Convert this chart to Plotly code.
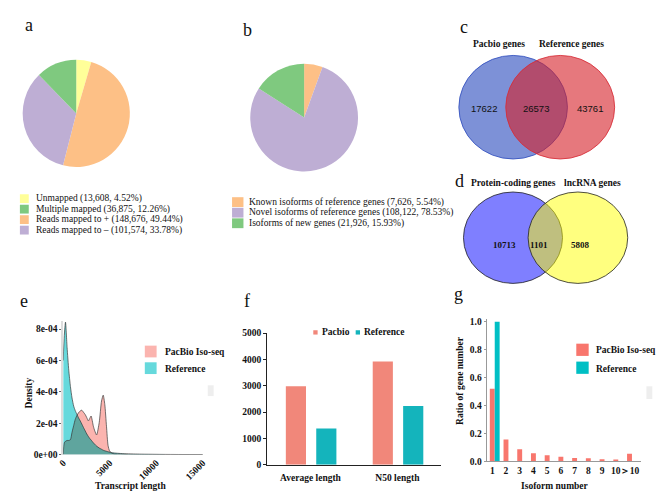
import plotly.graph_objects as go
import numpy as np

W, H = 668, 494
SERIF = "Liberation Serif, Times New Roman, serif"
SANS = "Liberation Sans, Arial, sans-serif"

# ---------------- data ----------------
a_labels = ["Unmapped (13,608, 4.52%)", "Multiple mapped (36,875, 12.26%)",
            "Reads mapped to + (148,676, 49.44%)", "Reads mapped to – (101,574, 33.78%)"]
a_values = [13608, 36875, 148676, 101574]
a_colors = ["#FFFF99", "#7FC97F", "#FDC086", "#BEAED4"]
a_slice_order = [0, 2, 3, 1]

b_labels = ["Known isoforms of reference genes (7,626, 5.54%)",
            "Novel isoforms of reference genes (108,122, 78.53%)",
            "Isoforms of new genes (21,926, 15.93%)"]
b_values = [7626, 108122, 21926]
b_colors = ["#FDC086", "#BEAED4", "#7FC97F"]

c_sets = ["Pacbio genes", "Reference genes"]
c_counts = [17622, 26573, 43761]
d_sets = ["Protein-coding genes", "lncRNA genes"]
d_counts = [10713, 1101, 5808]

e_length = [0, 120, 250, 420, 600, 780, 950, 1130, 1300, 1480, 1650, 1830, 2000, 2180,
            2360, 2540, 2710, 2890, 3000, 3240, 3400, 3590, 3870, 4120, 4300, 4470,
            4650, 4820, 5000, 5350, 6400, 8200, 11000, 15000]
e_reference = [6.0e-4, 7.6e-4, 8.45e-4, 6.84e-4, 5.38e-4, 4.34e-4, 3.61e-4, 3.09e-4, 2.80e-4,
               2.56e-4, 2.35e-4, 2.15e-4, 1.95e-4, 1.73e-4, 1.52e-4, 1.31e-4, 1.15e-4, 1.00e-4,
               0.93e-4, 0.75e-4, 0.65e-4, 0.54e-4, 0.42e-4, 0.34e-4, 0.28e-4, 0.24e-4, 0.21e-4,
               0.18e-4, 0.15e-4, 0.11e-4, 0.06e-4, 0.03e-4, 0.01e-4, 0.0]
e_pacbio = [0.0, 0.75e-4, 0.85e-4, 0.90e-4, 0.90e-4, 0.95e-4, 1.42e-4, 1.85e-4, 2.25e-4,
            2.50e-4, 2.67e-4, 2.78e-4, 2.83e-4, 2.70e-4, 2.56e-4, 2.35e-4, 2.15e-4, 2.35e-4,
            2.46e-4, 1.81e-4, 1.50e-4, 1.25e-4, 2.04e-4, 3.42e-4, 3.79e-4, 3.20e-4, 1.81e-4,
            0.58e-4, 0.21e-4, 0.06e-4, 0.02e-4, 0.0, 0.0, 0.0]
e_series = ["PacBio Iso-seq", "Reference"]
e_yticks = [0, 2e-4, 4e-4, 6e-4, 8e-4]
e_yticktext = ["0e+00", "2e-04", "4e-04", "6e-04", "8e-04"]
e_xticks = [0, 5000, 10000, 15000]
e_xticktext = ["0", "5000", "10000", "15000"]

f_categories = ["Average length", "N50 length"]
f_pacbio = [2980, 3920]
f_reference = [1370, 2230]
f_series = ["Pacbio", "Reference"]

g_categories = ["1", "2", "3", "4", "5", "6", "7", "8", "9", "10", "＞10"]
g_pacbio = [0.52, 0.157, 0.087, 0.059, 0.045, 0.033, 0.024, 0.022, 0.016, 0.013, 0.055]
g_reference = [1.0, 0, 0, 0, 0, 0, 0, 0, 0, 0, 0]
g_series = ["PacBio Iso-seq", "Reference"]
g_yticks = [0, 0.2, 0.4, 0.6, 0.8, 1.0]
g_yticktext = ["0.0", "0.2", "0.4", "0.6", "0.8", "1.0"]

# ---------------- helpers ----------------
def PX(v):
    return v / W


def PY(v):
    return 1 - v / H


fig = go.Figure()
annotations = []
shapes = []


def text(t, x, y, size=9.5, family=SERIF, bold=False, xanchor="center", angle=0, color="#111"):
    annotations.append(dict(text=t, x=PX(x), y=PY(y), xref="paper", yref="paper",
                            showarrow=False, xanchor=xanchor, yanchor="middle",
                            textangle=angle,
                            font=dict(family=family, size=size, color=color,
                                      weight="bold" if bold else "normal")))


def rect(x0, x1, y0, y1, color):
    shapes.append(dict(type="rect", xref="paper", yref="paper", x0=PX(x0), x1=PX(x1),
                       y0=PY(y1), y1=PY(y0), fillcolor=color, line=dict(width=0)))


def circle(x0, x1, y0, y1, fill, line, lw=1):
    shapes.append(dict(type="circle", xref="paper", yref="paper", x0=PX(x0), x1=PX(x1),
                       y0=PY(y1), y1=PY(y0), fillcolor=fill, line=dict(color=line, width=lw)))


# ---------------- panel a ----------------
fig.add_trace(go.Pie(values=[a_values[i] for i in a_slice_order],
                     labels=[a_labels[i] for i in a_slice_order],
                     marker=dict(colors=[a_colors[i] for i in a_slice_order], line=dict(width=0)),
                     sort=False, direction="clockwise", rotation=0, textinfo="none",
                     hoverinfo="label", showlegend=False,
                     domain=dict(x=[PX(8.8), PX(117.8)], y=[PY(157.2), PY(47.8)])))
for i, (lab, col) in enumerate(zip(a_labels, a_colors)):
    yc = 189.5 + i * 10.7
    rect(6, 15, yc - 4.5, yc + 4.5, col)
    text(lab, 20.7, yc, size=9.5, xanchor="left")
text("a", 15, 12, size=18)

# ---------------- panel b ----------------
fig.add_trace(go.Pie(values=b_values, labels=b_labels,
                     marker=dict(colors=b_colors, line=dict(width=0)),
                     sort=False, direction="clockwise", rotation=0, textinfo="none",
                     hoverinfo="label", showlegend=False,
                     domain=dict(x=[PX(240), PX(350)], y=[PY(161.7), PY(51.7)])))
for i, (lab, col) in enumerate(zip(b_labels, b_colors)):
    yc = 193 + i * 10.8
    rect(221.7, 233.3, yc - 5, yc + 5, col)
    text(lab, 236.7, yc, size=9.5, xanchor="left")
text("b", 237, 17, size=18)

# ---------------- panel c (Venn) ----------------
circle(452.3, 562.7, 43.3, 149, "rgba(38,72,188,0.6)", "rgba(50,80,190,0.85)")
circle(500, 610.7, 43.3, 149, "rgba(213,30,38,0.6)", "rgba(215,45,55,0.85)")
text("<b>%s</b>" % c_sets[0], 493, 32, size=9.5, bold=True)
text("<b>%s</b>" % c_sets[1], 567, 32, size=9.5, bold=True)
for v, x in zip(c_counts, [477.5, 530.8, 585.8]):
    text(str(v), x, 97, size=9.5, family=SANS, color="#111")
text("c", 458, 14, size=18)

# ---------------- panel d (Venn) ----------------
circle(457, 557.7, 182.7, 276, "rgba(0,0,255,0.5)", "#222", 0.8)
circle(522.7, 624, 182.7, 276, "rgba(255,255,0,0.5)", "#222", 0.8)
text("<b>%s</b>" % d_sets[0], 508, 174, size=9.5, bold=True)
text("<b>%s</b>" % d_sets[1], 588, 174, size=9.5, bold=True)
for v, x in zip(d_counts, [499, 534, 576]):
    text("<b>%d</b>" % v, x, 237, size=9, bold=True)
text("d", 453, 171, size=18)

# ---------------- panel e (density) ----------------
e_ref = np.array(e_reference)
e_pac = np.array(e_pacbio)
e_overlap = np.minimum(e_ref, e_pac)
fig.add_trace(go.Scatter(x=e_length, y=e_pac, mode="lines", fill="tozeroy",
                         fillcolor="rgba(248,118,109,0.55)", line=dict(width=0, shape="spline", smoothing=0.6),
                         xaxis="x", yaxis="y", showlegend=False, name=e_series[0]))
fig.add_trace(go.Scatter(x=e_length, y=e_ref, mode="lines", fill="tozeroy",
                         fillcolor="rgba(0,191,196,0.6)", line=dict(width=0, shape="spline", smoothing=0.6),
                         xaxis="x", yaxis="y", showlegend=False, name=e_series[1]))
fig.add_trace(go.Scatter(x=e_length, y=e_overlap, mode="lines", fill="tozeroy",
                         fillcolor="rgb(95,165,158)", line=dict(width=0, shape="spline", smoothing=0.6),
                         xaxis="x", yaxis="y", showlegend=False, hoverinfo="skip"))
for ys in (e_pac, e_ref):
    fig.add_trace(go.Scatter(x=e_length, y=ys, mode="lines",
                             line=dict(width=0.7, color="#3a3a3a", shape="spline", smoothing=0.6),
                             xaxis="x", yaxis="y", showlegend=False, hoverinfo="skip"))
rect(133, 145, 339.5, 351.5, "rgba(248,118,109,0.55)")
rect(133, 145, 356.5, 368.5, "rgba(0,191,196,0.6)")
text("<b>%s</b>" % e_series[0], 152, 346, size=9.5, bold=True, xanchor="left")
text("<b>%s</b>" % e_series[1], 152, 363, size=9.5, bold=True, xanchor="left")
text("<b>Density</b>", 15.5, 388, size=9.5, bold=True, angle=-90)
text("<b>Transcript length</b>", 119, 482.7, size=9.5, bold=True)
rect(197, 203, 380, 391, "#eeeeee")
text("e", 10, 294, size=18)

# ---------------- panel f (bars) ----------------
fig.add_trace(go.Bar(x=f_categories, y=f_pacbio, marker=dict(color="#F1877A", line=dict(width=0)),
                     offset=-0.284, width=0.232, xaxis="x2", yaxis="y2", showlegend=False,
                     name=f_series[0]))
fig.add_trace(go.Bar(x=f_categories, y=f_reference, marker=dict(color="#14B4BC", line=dict(width=0)),
                     offset=0.066, width=0.232, xaxis="x2", yaxis="y2", showlegend=False,
                     name=f_series[1]))
rect(304.3, 308.7, 323.8, 328.2, "#F1877A")
text("<b>%s</b>" % f_series[0], 311.3, 326, size=9.5, bold=True, xanchor="left")
rect(347.4, 351.8, 323.8, 328.2, "#14B4BC")
text("<b>%s</b>" % f_series[1], 354.2, 326, size=9.5, bold=True, xanchor="left")
text("f", 237, 294, size=18)

# ---------------- panel g (bars) ----------------
fig.add_trace(go.Bar(x=g_categories, y=g_pacbio, marker=dict(color="#F8766D", line=dict(width=0)),
                     offset=-0.18, width=0.357, xaxis="x3", yaxis="y3", showlegend=False,
                     name=g_series[0]))
fig.add_trace(go.Bar(x=g_categories, y=g_reference, marker=dict(color="#00BFC4", line=dict(width=0)),
                     offset=0.18, width=0.357, xaxis="x3", yaxis="y3", showlegend=False,
                     name=g_series[1]))
rect(571.7, 584.3, 337.5, 350, "#F8766D")
rect(571.7, 584.3, 355.8, 368.3, "#00BFC4")
text("<b>%s</b>" % g_series[0], 590, 344.3, size=9.5, bold=True, xanchor="left")
text("<b>%s</b>" % g_series[1], 590, 363.3, size=9.5, bold=True, xanchor="left")
text("<b>Ratio of gene number</b>", 454, 375, size=9.5, bold=True, angle=-90)
text("<b>Isoform number</b>", 550, 482.7, size=9.5, bold=True)
rect(643, 649, 381, 394, "#eeeeee")
text("g", 452, 287, size=18)

tickfont = dict(family=SERIF, size=9.5, color="#111", weight="bold")

fig.update_layout(
    width=W, height=H, margin=dict(l=0, r=0, t=0, b=0),
    paper_bgcolor="white", plot_bgcolor="white", showlegend=False,
    barmode="overlay",
    annotations=annotations, shapes=shapes,
    xaxis=dict(domain=[PX(50), PX(192)], range=[0, 15000], anchor="y",
               tickvals=e_xticks, ticktext=e_xticktext, tickangle=-45, tickfont=tickfont,
               showgrid=False, zeroline=False, showline=False, ticks=""),
    yaxis=dict(domain=[PY(450.7), PY(314.7)], range=[0, 8.5e-4], anchor="x",
               tickvals=e_yticks, ticktext=e_yticktext, tickfont=tickfont,
               showgrid=False, zeroline=False, showline=True, linecolor="#dddddd",
               linewidth=1.5, ticks="outside", ticklen=2, tickcolor="#666"),
    xaxis2=dict(domain=[PX(257.3), PX(434)], range=[-0.5, 1.5], anchor="y2", type="category",
                tickfont=tickfont, showgrid=False, zeroline=False, showline=True, tickangle=0,
                linecolor="#222", linewidth=1, ticks="", ticklabelstandoff=4),
    yaxis2=dict(domain=[PY(461), PY(326.7)], range=[0, 5000], anchor="x2", dtick=1000,
                tickfont=tickfont, showgrid=False, zeroline=False, showline=True,
                linecolor="#222", linewidth=1, ticks="outside", ticklen=3, tickcolor="#222"),
    xaxis3=dict(domain=[PX(480.5), PX(637)], range=[-0.414, 10.8], anchor="y3", type="category",
                tickfont=tickfont, showgrid=False, zeroline=False, showline=True, tickangle=0,
                linecolor="#999", linewidth=1, ticks=""),
    yaxis3=dict(domain=[PY(457.7), PY(312.4)], range=[0, 1.02], anchor="x3",
                tickvals=g_yticks, ticktext=g_yticktext, tickfont=tickfont,
                showgrid=False, zeroline=False, showline=True, linecolor="#999",
                linewidth=1, ticks="outside", ticklen=2, tickcolor="#999"),
)

fig.write_html("out.html")
